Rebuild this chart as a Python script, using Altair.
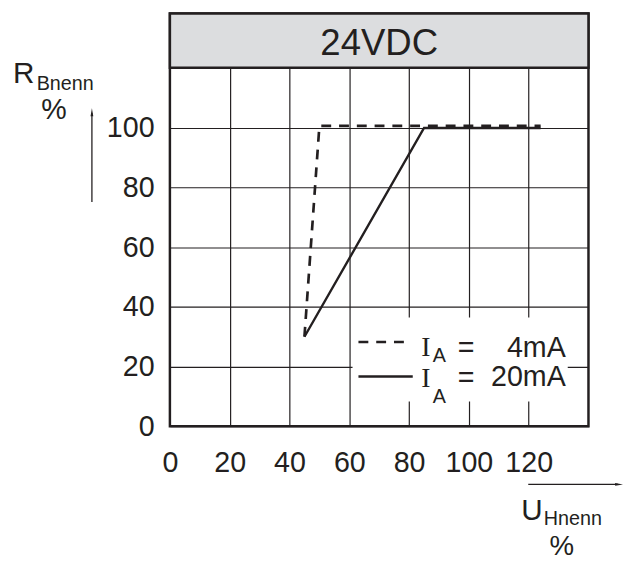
import altair as alt
import pandas as pd

# ---- data ----
u_4mA = [45, 50, 124]
r_4mA = [30, 100.7, 100.7]
u_20mA = [45, 85, 124]
r_20mA = [30, 100, 100]
x_ticks = [0, 20, 40, 60, 80, 100, 120]
y_ticks = [0, 20, 40, 60, 80, 100]
header_label = "24VDC"
legend_values = ["4mA", "20mA"]

INK = "#231f20"
SANS = "Liberation Sans"
SERIF = "Liberation Serif"
W, H = 424, 418
xs = alt.Scale(domain=[0, 140], nice=False, zero=False)
ys = alt.Scale(domain=[0, 138.4], nice=False, zero=False)

d4 = pd.DataFrame({"U": u_4mA, "R": r_4mA})
d20 = pd.DataFrame({"U": u_20mA, "R": r_20mA})
one = pd.DataFrame({"k": [0]})

x_axis = alt.Axis(values=x_ticks, title=None, ticks=False, domain=False, grid=True,
                  gridColor=INK, gridWidth=1.2, gridOpacity=1, labelFont=SANS,
                  labelFontSize=29, labelColor=INK, labelPadding=23,
                  labelFlush=False, labelOverlap=False)
y_axis = alt.Axis(values=y_ticks, title=None, ticks=False, domain=False, grid=True,
                  gridColor=INK, gridWidth=1.2, gridOpacity=1, labelFont=SANS,
                  labelFontSize=29, labelColor=INK, labelPadding=16,
                  labelFlush=False, labelOverlap=False)

line4 = alt.Chart(d4).mark_line(color=INK, strokeWidth=2.7, strokeDash=[10, 8]).encode(
    x=alt.X("U:Q", scale=xs, axis=x_axis),
    y=alt.Y("R:Q", scale=ys, axis=y_axis),
)
line20 = alt.Chart(d20).mark_line(color=INK, strokeWidth=2.4).encode(
    x=alt.X("U:Q", scale=xs),
    y=alt.Y("R:Q", scale=ys),
)


def txt(s, x, y, size, font=SANS, align="left", baseline="alphabetic"):
    return alt.Chart(one).mark_text(text=s, font=font, fontSize=size, color=INK,
                                    align=align, baseline=baseline).encode(
        x=alt.value(x), y=alt.value(y))


def rule(x, x2, y, y2, width=1.2, dash=None):
    kw = dict(color=INK, strokeWidth=width)
    if dash:
        kw["strokeDash"] = dash
    return alt.Chart(one).mark_rule(**kw).encode(
        x=alt.value(x), x2=alt.value(x2), y=alt.value(y), y2=alt.value(y2))


def arrowhead(x, y, path):
    return alt.Chart(one).mark_point(shape=path, size=64, filled=True, color=INK,
                                     opacity=1, strokeWidth=0).encode(
        x=alt.value(x), y=alt.value(y))


header = alt.Chart(one).mark_rect(fill="#dcdddf", stroke=INK, strokeWidth=2.5).encode(
    x=alt.value(0), x2=alt.value(W), y=alt.value(0), y2=alt.value(55))
header_text = txt(header_label, W / 2, 41.7, 37, align="center")

legend_box = alt.Chart(one).mark_rect(fill="white").encode(
    x=alt.value(185), x2=alt.value(403), y=alt.value(308), y2=alt.value(393))

layers = [
    legend_box, line4, line20, header, header_text,
    # legend
    rule(191, 245, 332.7, 332.7, width=2.5, dash=[10, 8]),
    rule(191, 246, 367.7, 367.7, width=2.3),
    txt("I", 254.7, 346.7, 28, font=SERIF),
    txt("A", 266.3, 353.3, 20),
    txt("=", 291.5, 347.5, 29),
    txt(legend_values[0], 401, 347.5, 29, align="right"),
    txt("I", 254.7, 378.3, 28, font=SERIF),
    txt("A", 266.3, 395, 20),
    txt("=", 291.5, 378.3, 29),
    txt(legend_values[1], 401, 377.7, 29, align="right"),
    # y-axis title and arrow
    txt("R", -159, 70, 30),
    txt("Bnenn", -135, 77, 20),
    txt("%", -117.5, 107, 29, align="center"),
    rule(-79, -79, 191, 101, width=1.3),
    arrowhead(-79, 100, "M0,-1L-0.35,1L0.35,1Z"),
    # x-axis title and arrow
    rule(363, 454, 477, 477, width=1.3),
    arrowhead(455, 477, "M1,0L-1,-0.35L-1,0.35Z"),
    txt("U", 356, 513, 30),
    txt("Hnenn", 378.7, 518.5, 20),
    txt("%", 397, 549, 28, align="center"),
]

chart = alt.layer(*layers).properties(
    width=W, height=H,
    autosize=alt.AutoSizeParams(type="none"),
    padding={"left": 164, "top": 2, "right": 37, "bottom": 133},
    background="white",
).configure_view(stroke=INK, strokeWidth=2.5)

chart.save("out.html", embed_options={"renderer": "svg", "actions": False})
